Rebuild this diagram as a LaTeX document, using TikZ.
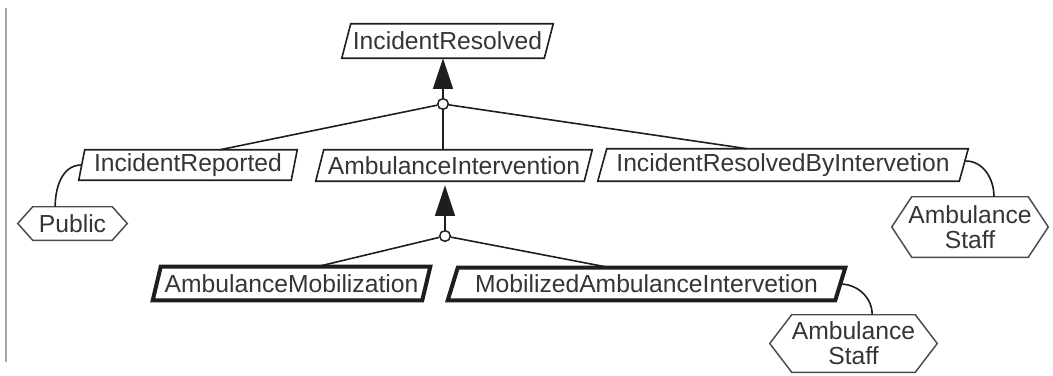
\documentclass[tikz,border=0pt]{standalone}
\usepackage{fontspec}
\setmainfont{Liberation Sans}
\usetikzlibrary{calc,arrows.meta}
\definecolor{txtc}{HTML}{353535}
\definecolor{linec}{HTML}{1E1E1E}
\newcommand\drawpara[3][]{\draw[linec,line width=1.2pt,#1] (#2.south west) -- ($(#2.north west)+(#3,0)$) -- (#2.north east) -- ($(#2.south east)-(#3,0)$) -- cycle;}
\newcommand\drawhex[2]{\draw[linec!80,line width=1.1pt] (#1.west) -- ($(#1.north west)+(#2,0)$) -- ($(#1.north east)-(#2,0)$) -- (#1.east) -- ($(#1.south east)-(#2,0)$) -- ($(#1.south west)+(#2,0)$) -- cycle;}
\begin{document}
\begin{tikzpicture}[x=0.75pt,y=-0.75pt,
  lbl/.style={inner sep=0pt,text=txtc,font=\fontsize{18.5}{19}\selectfont,align=center},
  conn/.style={linec,line width=1.2pt},
  junc/.style={circle,draw=linec,line width=1.1pt,fill=white,inner sep=0pt,minimum size=8pt},
  tri/.style={conn,-{Triangle[length=23pt,width=15pt]}}]
\useasboundingbox (0,0) rectangle (1053,375);
\draw[gray!70,line width=0.8pt] (6,8) -- (6,362);
% nodes
\node[lbl,minimum width=158.25pt,minimum height=25.5pt] (IR) at (447.5,41) {IncidentResolved};
\node[lbl,minimum width=163.5pt,minimum height=22.5pt] (IRp) at (188,165) {IncidentReported};
\node[lbl,minimum width=207pt,minimum height=23.25pt] (AI) at (454,165.5) {AmbulanceIntervention};
\node[lbl,minimum width=277.5pt,minimum height=24pt] (IRBI) at (783,165) {IncidentResolvedByIntervetion};
\node[lbl,minimum width=207.75pt,minimum height=24.75pt] (AM) at (291.5,283.5) {AmbulanceMobilization};
\node[lbl,minimum width=297.75pt,minimum height=24pt] (MAI) at (646.5,284) {MobilizedAmbulanceIntervetion};
\node[lbl,minimum width=81.75pt,minimum height=24.75pt] (Pub) at (72.5,223.5) {Public};
\node[lbl,minimum width=117pt,minimum height=45pt] (AS1) at (970,227) {Ambulance\\Staff};
\node[lbl,minimum width=125.25pt,minimum height=42.75pt] (AS2) at (853.5,343.5) {Ambulance\\Staff};
\node[junc] (c1) at (443,104) {};
\node[junc] (c2) at (445,236) {};
% shapes
\drawpara{IR}{9}
\drawpara{IRp}{6}
\drawpara{AI}{8}
\drawpara{IRBI}{9}
\drawpara[line width=3pt]{AM}{8}
\drawpara[line width=3pt]{MAI}{10}
\drawhex{Pub}{15}
\drawhex{AS1}{20}
\drawhex{AS2}{22}
% connectors
\draw[tri] (c1.north) -- (c1 |- IR.south);
\draw[conn] (c1) -- ([xshift=24pt]IRp.north);
\draw[conn] (c1.south) -- (c1 |- AI.north);
\draw[conn] (c1) -- ([xshift=-27pt]IRBI.north);
\draw[tri] (c2.north) -- ([yshift=-3pt]c2 |- AI.south);
\draw[conn] (c2) -- ([xshift=19pt]AM.north);
\draw[conn] (c2) -- ([xshift=-27pt]MAI.north);
\draw[conn] ([xshift=2pt]IRp.west) to[out=180,in=90] ([xshift=-13pt]Pub.north);
\draw[conn] ([xshift=-2pt,yshift=3pt]IRBI.east) to[out=0,in=90] ([xshift=18pt]AS1.north);
\draw[conn] ([xshift=-4pt]MAI.east) to[out=0,in=90] ([xshift=14pt]AS2.north);
\end{tikzpicture}
\end{document}
